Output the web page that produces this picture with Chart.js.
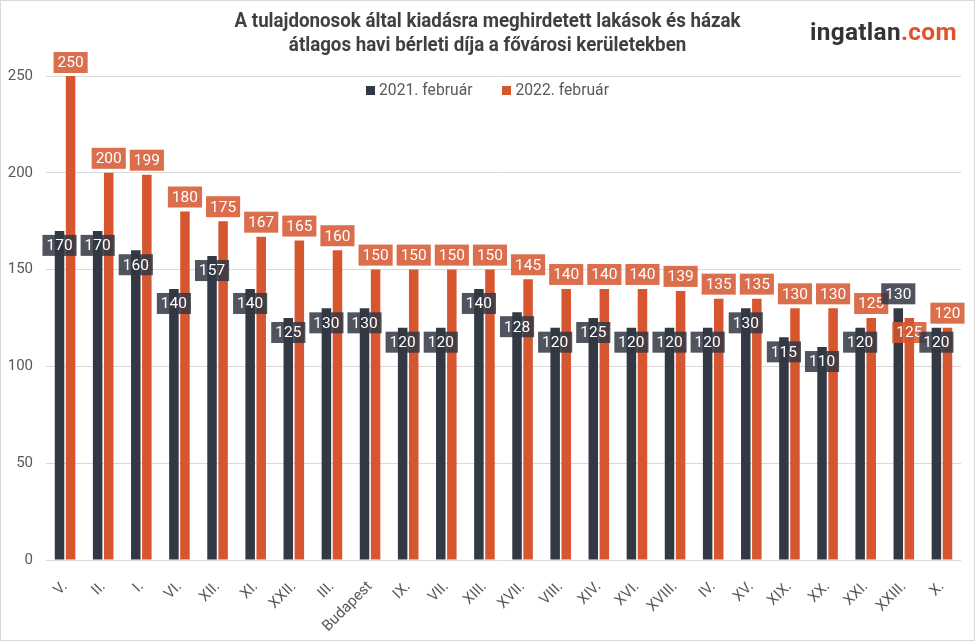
<!DOCTYPE html>
<html>
<head>
<meta charset="utf-8">
<script src="https://cdn.jsdelivr.net/npm/chart.js@4.4.0/dist/chart.umd.min.js"></script>
<style>
  html, body { margin: 0; padding: 0; background: #fff; }
  #wrap { position: relative; width: 975px; height: 641px; overflow: hidden; }
  #frame { position: absolute; left: 0; top: 0; width: 975px; height: 641px; box-sizing: border-box; border: 1px solid #d9d9d9; pointer-events: none; }
  #title { position: absolute; left: 0; top: 8px; width: 975px; text-align: center; font-family: 'Roboto', sans-serif; font-weight: bold; font-size: 20.8px; line-height: 24px; color: #404040; transform: scaleX(0.9); transform-origin: 488px 0; }
  #logo { position: absolute; left: 810px; top: 17px; font-family: 'Roboto', sans-serif; font-weight: bold; font-size: 24.4px; color: #333; letter-spacing: 0.3px; }
  #logo span { color: #e0522a; }
  #legend { position: absolute; left: 0; top: 80px; width: 975px; text-align: center; font-family: 'Roboto', sans-serif; font-size: 15.7px; color: #595959; }
  #legend .item { display: inline-block; margin: 0 13px; }
  #legend .box { display: inline-block; width: 9px; height: 9px; margin-right: 4px; vertical-align: 0; }
</style>
</head>
<body>
<div id="wrap">
  <canvas id="chart" width="975" height="641"></canvas>
  <div id="title">A tulajdonosok által kiadásra meghirdetett lakások és házak<br>átlagos havi bérleti díja a fővárosi kerületekben</div>
  <div id="logo">ingatlan<span>.com</span></div>
  <div id="legend">
    <span class="item"><span class="box" style="background:#323844"></span>2021. február</span>
    <span class="item"><span class="box" style="background:#d5562f"></span>2022. február</span>
  </div>
  <div id="frame"></div>
</div>
<script>
'use strict';

const districts = ['V.', 'II.', 'I.', 'VI.', 'XII.', 'XI.', 'XXII.', 'III.', 'Budapest', 'IX.', 'VII.', 'XIII.',
    'XVII.', 'VIII.', 'XIV.', 'XVI.', 'XVIII.', 'IV.', 'XV.', 'XIX.', 'XX.', 'XXI.', 'XXIII.', 'X.'];
const rent2021 = [170, 170, 160, 140, 157, 140, 125, 130, 130, 120, 120, 140,
    128, 120, 125, 120, 120, 120, 130, 115, 110, 120, 130, 120];
const rent2022 = [250, 200, 199, 180, 175, 167, 165, 160, 150, 150, 150, 150,
    145, 140, 140, 140, 139, 135, 135, 130, 130, 125, 125, 120];
const yTicks = [0, 50, 100, 150, 200, 250];

const colDark = '#323844';
const colOrange = '#d5562f';

// value boxes: taller bar gets its label above, the other one inside the top
const valueBoxes = {
    id: 'valueBoxes',
    afterDatasetsDraw(chart) {
        const ctx = chart.ctx;
        const metas = [chart.getDatasetMeta(0), chart.getDatasetMeta(1)];
        const vals = [rent2021, rent2022];
        const cols = [colDark, colOrange];
        ctx.save();
        ctx.font = '15.5px Roboto';
        ctx.textAlign = 'center';
        ctx.textBaseline = 'middle';
        // draw orange first so dark boxes sit on top
        [1, 0].forEach(ds => {
            metas[ds].data.forEach((el, i) => {
                const outside = ds === 1 ? vals[1][i] >= vals[0][i] : vals[0][i] > vals[1][i];
                const txt = String(vals[ds][i]);
                const w = ctx.measureText(txt).width + 8;
                const h = 21;
                let top = outside ? el.y - 4 - h : el.y + 4;
                top = Math.max(top, chart.chartArea.top - 24);
                ctx.globalAlpha = 0.86;
                ctx.fillStyle = cols[ds];
                ctx.fillRect(el.x - w / 2, top, w, h);
                ctx.globalAlpha = 1;
                ctx.fillStyle = '#ffffff';
                ctx.fillText(txt, el.x, top + h / 2 + 1);
            });
        });
        ctx.restore();
    }
};

new Chart(document.getElementById('chart'), {
    type: 'bar',
    data: {
        labels: districts,
        datasets: [
            { label: '2021. február', data: rent2021, backgroundColor: colDark, categoryPercentage: 0.58, barPercentage: 0.86 },
            { label: '2022. február', data: rent2022, backgroundColor: colOrange, categoryPercentage: 0.58, barPercentage: 0.86 }
        ]
    },
    options: {
        responsive: false,
        animation: false,
        layout: { padding: { top: 76, right: 14, left: 0, bottom: 0 } },
        plugins: {
            legend: { display: false },
            tooltip: { enabled: false }
        },
        scales: {
            x: {
                grid: { display: false },
                border: { display: false },
                ticks: {
                    color: '#595959',
                    font: { family: 'Roboto', size: 15 },
                    minRotation: 45,
                    maxRotation: 45,
                    padding: 10
                },
                afterFit: s => { s.height = 81; }
            },
            y: {
                min: 0,
                max: 250,
                afterBuildTicks: s => { s.ticks = yTicks.map(v => ({ value: v })); },
                grid: { color: '#d9d9d9', drawTicks: false },
                border: { display: false },
                ticks: {
                    color: '#595959',
                    font: { family: 'Roboto', size: 15 },
                    padding: 13
                },
                afterFit: s => { s.width = 46; }
            }
        }
    },
    plugins: [valueBoxes]
});
</script>
</body>
</html>
